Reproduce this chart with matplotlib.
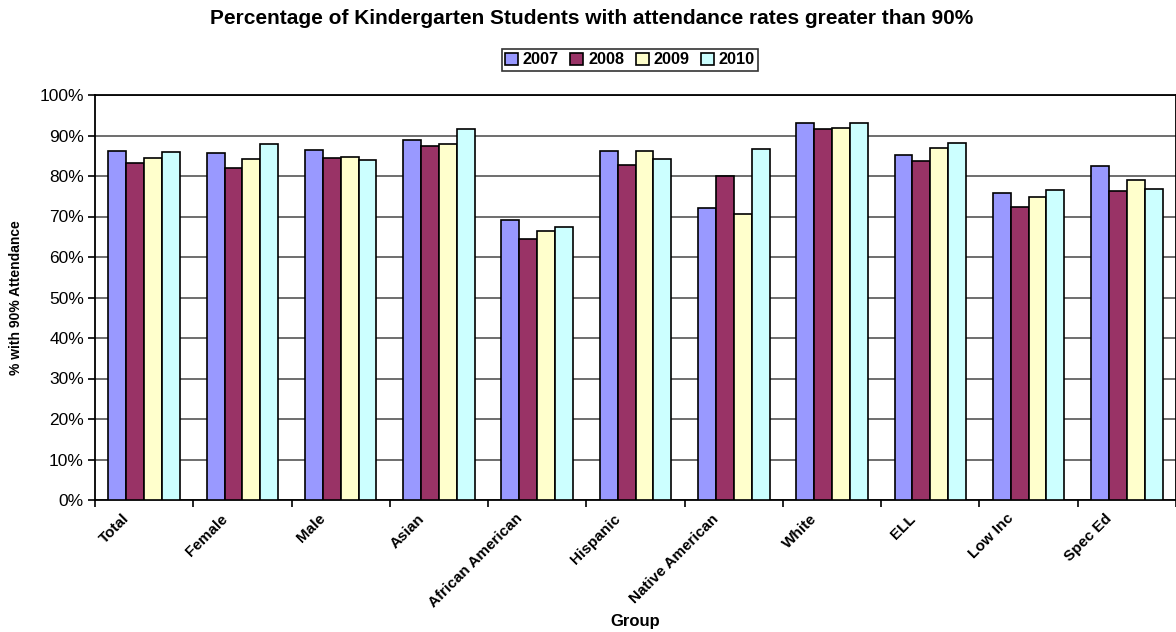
import numpy as np
import matplotlib.pyplot as plt
import matplotlib.transforms as mtransforms

groups = ["Total", "Female", "Male", "Asian", "African American", "Hispanic",
          "Native American", "White", "ELL", "Low Inc", "Spec Ed"]
years = ["2007", "2008", "2009", "2010"]
v2007 = [86.2, 85.8, 86.5, 88.9, 69.2, 86.2, 72.1, 93.1, 85.1, 75.9, 82.5]
v2008 = [83.2, 81.9, 84.4, 87.3, 64.4, 82.7, 80.0, 91.6, 83.7, 72.3, 76.2]
v2009 = [84.5, 84.2, 84.7, 87.8, 66.3, 86.2, 70.5, 91.9, 86.9, 74.9, 79.0]
v2010 = [85.9, 87.9, 83.9, 91.5, 67.3, 84.3, 86.6, 93.1, 88.1, 76.5, 76.8]
colors = ["#9999FF", "#993366", "#FFFFCC", "#CCFFFF"]

plt.rcParams["font.family"] = ["Liberation Sans", "DejaVu Sans"]

fig = plt.figure(figsize=(11.76, 6.32), dpi=100)
ax = fig.add_axes([95 / 1176, 1 - 500 / 632, 1081 / 1176, 405 / 632])

x = np.arange(len(groups))
w = 1 / 5.5
series = [v2007, v2008, v2009, v2010]
for i, (vals, col, yr) in enumerate(zip(series, colors, years)):
    ax.bar(x + (i - 1.5) * w, vals, w, color=col, edgecolor="black",
           linewidth=1.2, label=yr, zorder=3)

ax.set_xlim(-0.5, len(groups) - 0.5)
ax.set_ylim(0, 100)
ax.set_yticks(np.arange(0, 101, 10))
ax.set_yticklabels([f"{t}%" for t in range(0, 101, 10)], fontsize=12.5)
ax.yaxis.grid(True, color="#555555", linewidth=1.2, zorder=0)

ax.set_xticks(x)
ax.set_xticklabels(groups, rotation=45, ha="right", rotation_mode="anchor",
                   fontsize=11, fontweight="bold")
ax.tick_params(axis="x", length=0, pad=9)
# Excel puts the rotated labels a bit left of the category centre
shift = mtransforms.ScaledTranslation(-22 / 100, 1 / 100, fig.dpi_scale_trans)
for lab in ax.get_xticklabels():
    lab.set_transform(lab.get_transform() + shift)
ax.set_xticks(np.arange(-0.5, len(groups), 1), minor=True)
ax.tick_params(axis="x", which="minor", length=5, width=1.2)
ax.tick_params(axis="y", length=5, width=1.2, pad=3)

for s in ax.spines.values():
    s.set_linewidth(1.3)

ax.set_ylabel("% with 90% Attendance", fontsize=10, fontweight="bold")
ax.yaxis.set_label_coords(-72 / 1081, 0.5)
ax.set_xlabel("Group", fontsize=12, fontweight="bold")
ax.xaxis.set_label_coords(0.5, -114 / 405)

fig.text(592 / 1176, 1 - 18 / 632,
         "Percentage of Kindergarten Students with attendance rates greater than 90%",
         ha="center", va="center", fontsize=15, fontweight="bold")

leg = ax.legend(ncol=4, loc="center", bbox_to_anchor=(630 / 1176, 1 - 60 / 632),
                bbox_transform=fig.transFigure, fancybox=False, frameon=True,
                edgecolor="black", prop={"weight": "bold", "size": 11.7},
                handlelength=0.8, handleheight=0.8, handletextpad=0.3,
                columnspacing=0.7, borderpad=0.2, borderaxespad=0)
leg.get_frame().set_linewidth(1.2)

fig.savefig("out.png", dpi=100)
